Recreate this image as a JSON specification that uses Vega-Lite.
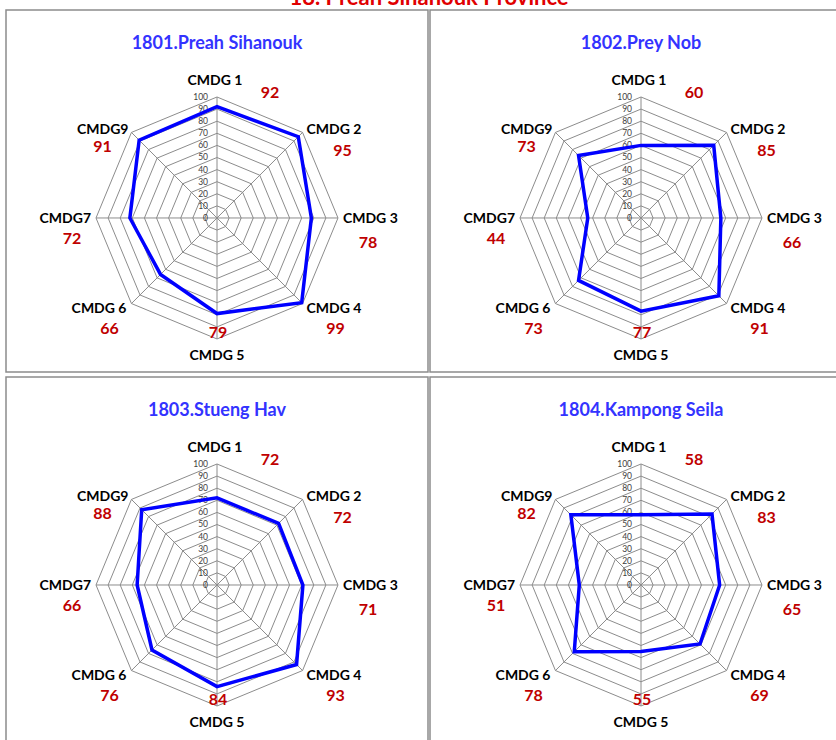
{
"$schema": "https://vega.github.io/schema/vega-lite/v6.json",
"background": "white",
"padding": {"left": 5, "top": -13, "right": -15, "bottom": -7},
"title": {"text": "18. Preah Sihanouk Province", "font": "Lato", "fontSize": 22, "fontWeight": "bold", "color": "#E00000", "anchor": "middle", "baseline": "alphabetic", "offset": -18},
"config": {"view": {"stroke": "#8c8c8c", "strokeWidth": 1.5}},
"datasets": {
"axes": [{"k":0,"label":"CMDG 1"},{"k":1,"label":"CMDG 2"},{"k":2,"label":"CMDG 3"},{"k":3,"label":"CMDG 4"},{"k":4,"label":"CMDG 5"},{"k":5,"label":"CMDG 6"},{"k":6,"label":"CMDG7"},{"k":7,"label":"CMDG9"}],
"rings": [{"level":10,"k":[0,1,2,3,4,5,6,7]},{"level":20,"k":[0,1,2,3,4,5,6,7]},{"level":30,"k":[0,1,2,3,4,5,6,7]},{"level":40,"k":[0,1,2,3,4,5,6,7]},{"level":50,"k":[0,1,2,3,4,5,6,7]},{"level":60,"k":[0,1,2,3,4,5,6,7]},{"level":70,"k":[0,1,2,3,4,5,6,7]},{"level":80,"k":[0,1,2,3,4,5,6,7]},{"level":90,"k":[0,1,2,3,4,5,6,7]},{"level":100,"k":[0,1,2,3,4,5,6,7]}],
"ticks": [{"level":0},{"level":10},{"level":20},{"level":30},{"level":40},{"level":50},{"level":60},{"level":70},{"level":80},{"level":90},{"level":100}],
"scores": [
{"district":"1801.Preah Sihanouk","indicator":"CMDG 1","k":0,"value":92},
{"district":"1801.Preah Sihanouk","indicator":"CMDG 2","k":1,"value":95},
{"district":"1801.Preah Sihanouk","indicator":"CMDG 3","k":2,"value":78},
{"district":"1801.Preah Sihanouk","indicator":"CMDG 4","k":3,"value":99},
{"district":"1801.Preah Sihanouk","indicator":"CMDG 5","k":4,"value":79},
{"district":"1801.Preah Sihanouk","indicator":"CMDG 6","k":5,"value":66},
{"district":"1801.Preah Sihanouk","indicator":"CMDG7","k":6,"value":72},
{"district":"1801.Preah Sihanouk","indicator":"CMDG9","k":7,"value":91},
{"district":"1802.Prey Nob","indicator":"CMDG 1","k":0,"value":60},
{"district":"1802.Prey Nob","indicator":"CMDG 2","k":1,"value":85},
{"district":"1802.Prey Nob","indicator":"CMDG 3","k":2,"value":66},
{"district":"1802.Prey Nob","indicator":"CMDG 4","k":3,"value":91},
{"district":"1802.Prey Nob","indicator":"CMDG 5","k":4,"value":77},
{"district":"1802.Prey Nob","indicator":"CMDG 6","k":5,"value":73},
{"district":"1802.Prey Nob","indicator":"CMDG7","k":6,"value":44},
{"district":"1802.Prey Nob","indicator":"CMDG9","k":7,"value":73},
{"district":"1803.Stueng Hav","indicator":"CMDG 1","k":0,"value":72},
{"district":"1803.Stueng Hav","indicator":"CMDG 2","k":1,"value":72},
{"district":"1803.Stueng Hav","indicator":"CMDG 3","k":2,"value":71},
{"district":"1803.Stueng Hav","indicator":"CMDG 4","k":3,"value":93},
{"district":"1803.Stueng Hav","indicator":"CMDG 5","k":4,"value":84},
{"district":"1803.Stueng Hav","indicator":"CMDG 6","k":5,"value":76},
{"district":"1803.Stueng Hav","indicator":"CMDG7","k":6,"value":66},
{"district":"1803.Stueng Hav","indicator":"CMDG9","k":7,"value":88},
{"district":"1804.Kampong Seila","indicator":"CMDG 1","k":0,"value":58},
{"district":"1804.Kampong Seila","indicator":"CMDG 2","k":1,"value":83},
{"district":"1804.Kampong Seila","indicator":"CMDG 3","k":2,"value":65},
{"district":"1804.Kampong Seila","indicator":"CMDG 4","k":3,"value":69},
{"district":"1804.Kampong Seila","indicator":"CMDG 5","k":4,"value":55},
{"district":"1804.Kampong Seila","indicator":"CMDG 6","k":5,"value":78},
{"district":"1804.Kampong Seila","indicator":"CMDG7","k":6,"value":51},
{"district":"1804.Kampong Seila","indicator":"CMDG9","k":7,"value":82}
]
},
"spacing": 3,
"vconcat": [
{"spacing": 0, "hconcat": [
{"width":422,"height":362,
"title":{"text":"1801.Preah Sihanouk","font":"Lato","fontSize":18,"fontWeight":"bold","color":"#3333FF","anchor":"middle","baseline":"alphabetic","offset":0,"dy":57},
"encoding":{"x":{"field":"px","type":"quantitative","scale":{"domain":[-174.4,174.4],"nice":false,"zero":false},"axis":null},"y":{"field":"py","type":"quantitative","scale":{"domain":[-127.3,171.9],"nice":false,"zero":false},"axis":null}},
"layer":[
{"data":{"name":"rings"},"transform":[{"flatten":["k"]},{"calculate":"datum.level*sin(datum.k*PI/4)","as":"px"},{"calculate":"datum.level*cos(datum.k*PI/4)","as":"py"}],"mark":{"type":"line","interpolate":"linear-closed","stroke":"#8c8c8c","strokeWidth":1},"encoding":{"detail":{"field":"level","type":"nominal"},"order":{"field":"k","type":"quantitative"}}},
{"data":{"name":"axes"},"transform":[{"calculate":"100*sin(datum.k*PI/4)","as":"px"},{"calculate":"100*cos(datum.k*PI/4)","as":"py"}],"mark":{"type":"rule","stroke":"#8c8c8c","strokeWidth":1},"encoding":{"x2":{"datum":0},"y2":{"datum":0}}},
{"data":{"name":"ticks"},"transform":[{"calculate":"0","as":"px"},{"calculate":"datum.level","as":"py"}],"mark":{"type":"text","align":"right","baseline":"middle","dx":-9,"font":"Lato","fontSize":8.5,"color":"#404040"},"encoding":{"text":{"field":"level","type":"quantitative"}}},
{"data":{"name":"scores"},"transform":[{"filter":"datum.district == '1801.Preah Sihanouk'"},{"calculate":"datum.value*sin(datum.k*PI/4)","as":"px"},{"calculate":"datum.value*cos(datum.k*PI/4)","as":"py"}],"mark":{"type":"line","interpolate":"linear-closed","stroke":"#0000FF","strokeWidth":3.5},"encoding":{"order":{"field":"k","type":"quantitative"}}},
{"data":{"name":"axes"},"transform":[{"filter":"datum.k == 0"},{"calculate":"100*sin(datum.k*PI/4)","as":"px"},{"calculate":"100*cos(datum.k*PI/4)","as":"py"}],"mark":{"type":"text","align":"center","baseline":"middle","dx":-2,"dy":-16,"font":"Lato","fontSize":14,"fontWeight":"bold","color":"#000000"},"encoding":{"text":{"field":"label"}}},
{"data":{"name":"axes"},"transform":[{"filter":"datum.k == 1"},{"calculate":"100*sin(datum.k*PI/4)","as":"px"},{"calculate":"100*cos(datum.k*PI/4)","as":"py"}],"mark":{"type":"text","align":"left","baseline":"middle","dx":4,"dy":-2,"font":"Lato","fontSize":14,"fontWeight":"bold","color":"#000000"},"encoding":{"text":{"field":"label"}}},
{"data":{"name":"axes"},"transform":[{"filter":"datum.k == 2"},{"calculate":"100*sin(datum.k*PI/4)","as":"px"},{"calculate":"100*cos(datum.k*PI/4)","as":"py"}],"mark":{"type":"text","align":"left","baseline":"middle","dx":5,"dy":1,"font":"Lato","fontSize":14,"fontWeight":"bold","color":"#000000"},"encoding":{"text":{"field":"label"}}},
{"data":{"name":"axes"},"transform":[{"filter":"datum.k == 3"},{"calculate":"100*sin(datum.k*PI/4)","as":"px"},{"calculate":"100*cos(datum.k*PI/4)","as":"py"}],"mark":{"type":"text","align":"left","baseline":"middle","dx":4,"dy":5,"font":"Lato","fontSize":14,"fontWeight":"bold","color":"#000000"},"encoding":{"text":{"field":"label"}}},
{"data":{"name":"axes"},"transform":[{"filter":"datum.k == 4"},{"calculate":"100*sin(datum.k*PI/4)","as":"px"},{"calculate":"100*cos(datum.k*PI/4)","as":"py"}],"mark":{"type":"text","align":"center","baseline":"middle","dx":0,"dy":17,"font":"Lato","fontSize":14,"fontWeight":"bold","color":"#000000"},"encoding":{"text":{"field":"label"}}},
{"data":{"name":"axes"},"transform":[{"filter":"datum.k == 5"},{"calculate":"100*sin(datum.k*PI/4)","as":"px"},{"calculate":"100*cos(datum.k*PI/4)","as":"py"}],"mark":{"type":"text","align":"right","baseline":"middle","dx":-5,"dy":5,"font":"Lato","fontSize":14,"fontWeight":"bold","color":"#000000"},"encoding":{"text":{"field":"label"}}},
{"data":{"name":"axes"},"transform":[{"filter":"datum.k == 6"},{"calculate":"100*sin(datum.k*PI/4)","as":"px"},{"calculate":"100*cos(datum.k*PI/4)","as":"py"}],"mark":{"type":"text","align":"right","baseline":"middle","dx":-5,"dy":1,"font":"Lato","fontSize":14,"fontWeight":"bold","color":"#000000"},"encoding":{"text":{"field":"label"}}},
{"data":{"name":"axes"},"transform":[{"filter":"datum.k == 7"},{"calculate":"100*sin(datum.k*PI/4)","as":"px"},{"calculate":"100*cos(datum.k*PI/4)","as":"py"}],"mark":{"type":"text","align":"right","baseline":"middle","dx":-3,"dy":-2,"font":"Lato","fontSize":14,"fontWeight":"bold","color":"#000000"},"encoding":{"text":{"field":"label"}}},
{"data":{"name":"scores"},"transform":[{"filter":"datum.district == '1801.Preah Sihanouk' && datum.k == 0"},{"calculate":"100*sin(datum.k*PI/4)","as":"px"},{"calculate":"100*cos(datum.k*PI/4)","as":"py"}],"mark":{"type":"text","align":"center","baseline":"middle","dx":53,"dy":-4,"font":"Lato","fontSize":16,"fontWeight":"bold","color":"#C00000"},"encoding":{"text":{"field":"value","type":"quantitative"}}},
{"data":{"name":"scores"},"transform":[{"filter":"datum.district == '1801.Preah Sihanouk' && datum.k == 1"},{"calculate":"100*sin(datum.k*PI/4)","as":"px"},{"calculate":"100*cos(datum.k*PI/4)","as":"py"}],"mark":{"type":"text","align":"center","baseline":"middle","dx":40,"dy":19,"font":"Lato","fontSize":16,"fontWeight":"bold","color":"#C00000"},"encoding":{"text":{"field":"value","type":"quantitative"}}},
{"data":{"name":"scores"},"transform":[{"filter":"datum.district == '1801.Preah Sihanouk' && datum.k == 2"},{"calculate":"100*sin(datum.k*PI/4)","as":"px"},{"calculate":"100*cos(datum.k*PI/4)","as":"py"}],"mark":{"type":"text","align":"center","baseline":"middle","dx":30,"dy":25,"font":"Lato","fontSize":16,"fontWeight":"bold","color":"#C00000"},"encoding":{"text":{"field":"value","type":"quantitative"}}},
{"data":{"name":"scores"},"transform":[{"filter":"datum.district == '1801.Preah Sihanouk' && datum.k == 3"},{"calculate":"100*sin(datum.k*PI/4)","as":"px"},{"calculate":"100*cos(datum.k*PI/4)","as":"py"}],"mark":{"type":"text","align":"center","baseline":"middle","dx":33,"dy":25,"font":"Lato","fontSize":16,"fontWeight":"bold","color":"#C00000"},"encoding":{"text":{"field":"value","type":"quantitative"}}},
{"data":{"name":"scores"},"transform":[{"filter":"datum.district == '1801.Preah Sihanouk' && datum.k == 4"},{"calculate":"100*sin(datum.k*PI/4)","as":"px"},{"calculate":"100*cos(datum.k*PI/4)","as":"py"}],"mark":{"type":"text","align":"center","baseline":"middle","dx":1,"dy":-6,"font":"Lato","fontSize":16,"fontWeight":"bold","color":"#C00000"},"encoding":{"text":{"field":"value","type":"quantitative"}}},
{"data":{"name":"scores"},"transform":[{"filter":"datum.district == '1801.Preah Sihanouk' && datum.k == 5"},{"calculate":"100*sin(datum.k*PI/4)","as":"px"},{"calculate":"100*cos(datum.k*PI/4)","as":"py"}],"mark":{"type":"text","align":"center","baseline":"middle","dx":-22,"dy":25,"font":"Lato","fontSize":16,"fontWeight":"bold","color":"#C00000"},"encoding":{"text":{"field":"value","type":"quantitative"}}},
{"data":{"name":"scores"},"transform":[{"filter":"datum.district == '1801.Preah Sihanouk' && datum.k == 6"},{"calculate":"100*sin(datum.k*PI/4)","as":"px"},{"calculate":"100*cos(datum.k*PI/4)","as":"py"}],"mark":{"type":"text","align":"center","baseline":"middle","dx":-24,"dy":21,"font":"Lato","fontSize":16,"fontWeight":"bold","color":"#C00000"},"encoding":{"text":{"field":"value","type":"quantitative"}}},
{"data":{"name":"scores"},"transform":[{"filter":"datum.district == '1801.Preah Sihanouk' && datum.k == 7"},{"calculate":"100*sin(datum.k*PI/4)","as":"px"},{"calculate":"100*cos(datum.k*PI/4)","as":"py"}],"mark":{"type":"text","align":"center","baseline":"middle","dx":-29,"dy":15,"font":"Lato","fontSize":16,"fontWeight":"bold","color":"#C00000"},"encoding":{"text":{"field":"value","type":"quantitative"}}}
]},
{"width":422,"height":362,
"title":{"text":"1802.Prey Nob","font":"Lato","fontSize":18,"fontWeight":"bold","color":"#3333FF","anchor":"middle","baseline":"alphabetic","offset":0,"dy":57},
"encoding":{"x":{"field":"px","type":"quantitative","scale":{"domain":[-174.4,174.4],"nice":false,"zero":false},"axis":null},"y":{"field":"py","type":"quantitative","scale":{"domain":[-127.3,171.9],"nice":false,"zero":false},"axis":null}},
"layer":[
{"data":{"name":"rings"},"transform":[{"flatten":["k"]},{"calculate":"datum.level*sin(datum.k*PI/4)","as":"px"},{"calculate":"datum.level*cos(datum.k*PI/4)","as":"py"}],"mark":{"type":"line","interpolate":"linear-closed","stroke":"#8c8c8c","strokeWidth":1},"encoding":{"detail":{"field":"level","type":"nominal"},"order":{"field":"k","type":"quantitative"}}},
{"data":{"name":"axes"},"transform":[{"calculate":"100*sin(datum.k*PI/4)","as":"px"},{"calculate":"100*cos(datum.k*PI/4)","as":"py"}],"mark":{"type":"rule","stroke":"#8c8c8c","strokeWidth":1},"encoding":{"x2":{"datum":0},"y2":{"datum":0}}},
{"data":{"name":"ticks"},"transform":[{"calculate":"0","as":"px"},{"calculate":"datum.level","as":"py"}],"mark":{"type":"text","align":"right","baseline":"middle","dx":-9,"font":"Lato","fontSize":8.5,"color":"#404040"},"encoding":{"text":{"field":"level","type":"quantitative"}}},
{"data":{"name":"scores"},"transform":[{"filter":"datum.district == '1802.Prey Nob'"},{"calculate":"datum.value*sin(datum.k*PI/4)","as":"px"},{"calculate":"datum.value*cos(datum.k*PI/4)","as":"py"}],"mark":{"type":"line","interpolate":"linear-closed","stroke":"#0000FF","strokeWidth":3.5},"encoding":{"order":{"field":"k","type":"quantitative"}}},
{"data":{"name":"axes"},"transform":[{"filter":"datum.k == 0"},{"calculate":"100*sin(datum.k*PI/4)","as":"px"},{"calculate":"100*cos(datum.k*PI/4)","as":"py"}],"mark":{"type":"text","align":"center","baseline":"middle","dx":-2,"dy":-16,"font":"Lato","fontSize":14,"fontWeight":"bold","color":"#000000"},"encoding":{"text":{"field":"label"}}},
{"data":{"name":"axes"},"transform":[{"filter":"datum.k == 1"},{"calculate":"100*sin(datum.k*PI/4)","as":"px"},{"calculate":"100*cos(datum.k*PI/4)","as":"py"}],"mark":{"type":"text","align":"left","baseline":"middle","dx":4,"dy":-2,"font":"Lato","fontSize":14,"fontWeight":"bold","color":"#000000"},"encoding":{"text":{"field":"label"}}},
{"data":{"name":"axes"},"transform":[{"filter":"datum.k == 2"},{"calculate":"100*sin(datum.k*PI/4)","as":"px"},{"calculate":"100*cos(datum.k*PI/4)","as":"py"}],"mark":{"type":"text","align":"left","baseline":"middle","dx":5,"dy":1,"font":"Lato","fontSize":14,"fontWeight":"bold","color":"#000000"},"encoding":{"text":{"field":"label"}}},
{"data":{"name":"axes"},"transform":[{"filter":"datum.k == 3"},{"calculate":"100*sin(datum.k*PI/4)","as":"px"},{"calculate":"100*cos(datum.k*PI/4)","as":"py"}],"mark":{"type":"text","align":"left","baseline":"middle","dx":4,"dy":5,"font":"Lato","fontSize":14,"fontWeight":"bold","color":"#000000"},"encoding":{"text":{"field":"label"}}},
{"data":{"name":"axes"},"transform":[{"filter":"datum.k == 4"},{"calculate":"100*sin(datum.k*PI/4)","as":"px"},{"calculate":"100*cos(datum.k*PI/4)","as":"py"}],"mark":{"type":"text","align":"center","baseline":"middle","dx":0,"dy":17,"font":"Lato","fontSize":14,"fontWeight":"bold","color":"#000000"},"encoding":{"text":{"field":"label"}}},
{"data":{"name":"axes"},"transform":[{"filter":"datum.k == 5"},{"calculate":"100*sin(datum.k*PI/4)","as":"px"},{"calculate":"100*cos(datum.k*PI/4)","as":"py"}],"mark":{"type":"text","align":"right","baseline":"middle","dx":-5,"dy":5,"font":"Lato","fontSize":14,"fontWeight":"bold","color":"#000000"},"encoding":{"text":{"field":"label"}}},
{"data":{"name":"axes"},"transform":[{"filter":"datum.k == 6"},{"calculate":"100*sin(datum.k*PI/4)","as":"px"},{"calculate":"100*cos(datum.k*PI/4)","as":"py"}],"mark":{"type":"text","align":"right","baseline":"middle","dx":-5,"dy":1,"font":"Lato","fontSize":14,"fontWeight":"bold","color":"#000000"},"encoding":{"text":{"field":"label"}}},
{"data":{"name":"axes"},"transform":[{"filter":"datum.k == 7"},{"calculate":"100*sin(datum.k*PI/4)","as":"px"},{"calculate":"100*cos(datum.k*PI/4)","as":"py"}],"mark":{"type":"text","align":"right","baseline":"middle","dx":-3,"dy":-2,"font":"Lato","fontSize":14,"fontWeight":"bold","color":"#000000"},"encoding":{"text":{"field":"label"}}},
{"data":{"name":"scores"},"transform":[{"filter":"datum.district == '1802.Prey Nob' && datum.k == 0"},{"calculate":"100*sin(datum.k*PI/4)","as":"px"},{"calculate":"100*cos(datum.k*PI/4)","as":"py"}],"mark":{"type":"text","align":"center","baseline":"middle","dx":53,"dy":-4,"font":"Lato","fontSize":16,"fontWeight":"bold","color":"#C00000"},"encoding":{"text":{"field":"value","type":"quantitative"}}},
{"data":{"name":"scores"},"transform":[{"filter":"datum.district == '1802.Prey Nob' && datum.k == 1"},{"calculate":"100*sin(datum.k*PI/4)","as":"px"},{"calculate":"100*cos(datum.k*PI/4)","as":"py"}],"mark":{"type":"text","align":"center","baseline":"middle","dx":40,"dy":19,"font":"Lato","fontSize":16,"fontWeight":"bold","color":"#C00000"},"encoding":{"text":{"field":"value","type":"quantitative"}}},
{"data":{"name":"scores"},"transform":[{"filter":"datum.district == '1802.Prey Nob' && datum.k == 2"},{"calculate":"100*sin(datum.k*PI/4)","as":"px"},{"calculate":"100*cos(datum.k*PI/4)","as":"py"}],"mark":{"type":"text","align":"center","baseline":"middle","dx":30,"dy":25,"font":"Lato","fontSize":16,"fontWeight":"bold","color":"#C00000"},"encoding":{"text":{"field":"value","type":"quantitative"}}},
{"data":{"name":"scores"},"transform":[{"filter":"datum.district == '1802.Prey Nob' && datum.k == 3"},{"calculate":"100*sin(datum.k*PI/4)","as":"px"},{"calculate":"100*cos(datum.k*PI/4)","as":"py"}],"mark":{"type":"text","align":"center","baseline":"middle","dx":33,"dy":25,"font":"Lato","fontSize":16,"fontWeight":"bold","color":"#C00000"},"encoding":{"text":{"field":"value","type":"quantitative"}}},
{"data":{"name":"scores"},"transform":[{"filter":"datum.district == '1802.Prey Nob' && datum.k == 4"},{"calculate":"100*sin(datum.k*PI/4)","as":"px"},{"calculate":"100*cos(datum.k*PI/4)","as":"py"}],"mark":{"type":"text","align":"center","baseline":"middle","dx":1,"dy":-6,"font":"Lato","fontSize":16,"fontWeight":"bold","color":"#C00000"},"encoding":{"text":{"field":"value","type":"quantitative"}}},
{"data":{"name":"scores"},"transform":[{"filter":"datum.district == '1802.Prey Nob' && datum.k == 5"},{"calculate":"100*sin(datum.k*PI/4)","as":"px"},{"calculate":"100*cos(datum.k*PI/4)","as":"py"}],"mark":{"type":"text","align":"center","baseline":"middle","dx":-22,"dy":25,"font":"Lato","fontSize":16,"fontWeight":"bold","color":"#C00000"},"encoding":{"text":{"field":"value","type":"quantitative"}}},
{"data":{"name":"scores"},"transform":[{"filter":"datum.district == '1802.Prey Nob' && datum.k == 6"},{"calculate":"100*sin(datum.k*PI/4)","as":"px"},{"calculate":"100*cos(datum.k*PI/4)","as":"py"}],"mark":{"type":"text","align":"center","baseline":"middle","dx":-24,"dy":21,"font":"Lato","fontSize":16,"fontWeight":"bold","color":"#C00000"},"encoding":{"text":{"field":"value","type":"quantitative"}}},
{"data":{"name":"scores"},"transform":[{"filter":"datum.district == '1802.Prey Nob' && datum.k == 7"},{"calculate":"100*sin(datum.k*PI/4)","as":"px"},{"calculate":"100*cos(datum.k*PI/4)","as":"py"}],"mark":{"type":"text","align":"center","baseline":"middle","dx":-29,"dy":15,"font":"Lato","fontSize":16,"fontWeight":"bold","color":"#C00000"},"encoding":{"text":{"field":"value","type":"quantitative"}}}
]}
]},
{"spacing": 0, "hconcat": [
{"width":422,"height":370,
"title":{"text":"1803.Stueng Hav","font":"Lato","fontSize":18,"fontWeight":"bold","color":"#3333FF","anchor":"middle","baseline":"alphabetic","offset":0,"dy":57},
"encoding":{"x":{"field":"px","type":"quantitative","scale":{"domain":[-174.4,174.4],"nice":false,"zero":false},"axis":null},"y":{"field":"py","type":"quantitative","scale":{"domain":[-133.9,171.9],"nice":false,"zero":false},"axis":null}},
"layer":[
{"data":{"name":"rings"},"transform":[{"flatten":["k"]},{"calculate":"datum.level*sin(datum.k*PI/4)","as":"px"},{"calculate":"datum.level*cos(datum.k*PI/4)","as":"py"}],"mark":{"type":"line","interpolate":"linear-closed","stroke":"#8c8c8c","strokeWidth":1},"encoding":{"detail":{"field":"level","type":"nominal"},"order":{"field":"k","type":"quantitative"}}},
{"data":{"name":"axes"},"transform":[{"calculate":"100*sin(datum.k*PI/4)","as":"px"},{"calculate":"100*cos(datum.k*PI/4)","as":"py"}],"mark":{"type":"rule","stroke":"#8c8c8c","strokeWidth":1},"encoding":{"x2":{"datum":0},"y2":{"datum":0}}},
{"data":{"name":"ticks"},"transform":[{"calculate":"0","as":"px"},{"calculate":"datum.level","as":"py"}],"mark":{"type":"text","align":"right","baseline":"middle","dx":-9,"font":"Lato","fontSize":8.5,"color":"#404040"},"encoding":{"text":{"field":"level","type":"quantitative"}}},
{"data":{"name":"scores"},"transform":[{"filter":"datum.district == '1803.Stueng Hav'"},{"calculate":"datum.value*sin(datum.k*PI/4)","as":"px"},{"calculate":"datum.value*cos(datum.k*PI/4)","as":"py"}],"mark":{"type":"line","interpolate":"linear-closed","stroke":"#0000FF","strokeWidth":3.5},"encoding":{"order":{"field":"k","type":"quantitative"}}},
{"data":{"name":"axes"},"transform":[{"filter":"datum.k == 0"},{"calculate":"100*sin(datum.k*PI/4)","as":"px"},{"calculate":"100*cos(datum.k*PI/4)","as":"py"}],"mark":{"type":"text","align":"center","baseline":"middle","dx":-2,"dy":-16,"font":"Lato","fontSize":14,"fontWeight":"bold","color":"#000000"},"encoding":{"text":{"field":"label"}}},
{"data":{"name":"axes"},"transform":[{"filter":"datum.k == 1"},{"calculate":"100*sin(datum.k*PI/4)","as":"px"},{"calculate":"100*cos(datum.k*PI/4)","as":"py"}],"mark":{"type":"text","align":"left","baseline":"middle","dx":4,"dy":-2,"font":"Lato","fontSize":14,"fontWeight":"bold","color":"#000000"},"encoding":{"text":{"field":"label"}}},
{"data":{"name":"axes"},"transform":[{"filter":"datum.k == 2"},{"calculate":"100*sin(datum.k*PI/4)","as":"px"},{"calculate":"100*cos(datum.k*PI/4)","as":"py"}],"mark":{"type":"text","align":"left","baseline":"middle","dx":5,"dy":1,"font":"Lato","fontSize":14,"fontWeight":"bold","color":"#000000"},"encoding":{"text":{"field":"label"}}},
{"data":{"name":"axes"},"transform":[{"filter":"datum.k == 3"},{"calculate":"100*sin(datum.k*PI/4)","as":"px"},{"calculate":"100*cos(datum.k*PI/4)","as":"py"}],"mark":{"type":"text","align":"left","baseline":"middle","dx":4,"dy":5,"font":"Lato","fontSize":14,"fontWeight":"bold","color":"#000000"},"encoding":{"text":{"field":"label"}}},
{"data":{"name":"axes"},"transform":[{"filter":"datum.k == 4"},{"calculate":"100*sin(datum.k*PI/4)","as":"px"},{"calculate":"100*cos(datum.k*PI/4)","as":"py"}],"mark":{"type":"text","align":"center","baseline":"middle","dx":0,"dy":17,"font":"Lato","fontSize":14,"fontWeight":"bold","color":"#000000"},"encoding":{"text":{"field":"label"}}},
{"data":{"name":"axes"},"transform":[{"filter":"datum.k == 5"},{"calculate":"100*sin(datum.k*PI/4)","as":"px"},{"calculate":"100*cos(datum.k*PI/4)","as":"py"}],"mark":{"type":"text","align":"right","baseline":"middle","dx":-5,"dy":5,"font":"Lato","fontSize":14,"fontWeight":"bold","color":"#000000"},"encoding":{"text":{"field":"label"}}},
{"data":{"name":"axes"},"transform":[{"filter":"datum.k == 6"},{"calculate":"100*sin(datum.k*PI/4)","as":"px"},{"calculate":"100*cos(datum.k*PI/4)","as":"py"}],"mark":{"type":"text","align":"right","baseline":"middle","dx":-5,"dy":1,"font":"Lato","fontSize":14,"fontWeight":"bold","color":"#000000"},"encoding":{"text":{"field":"label"}}},
{"data":{"name":"axes"},"transform":[{"filter":"datum.k == 7"},{"calculate":"100*sin(datum.k*PI/4)","as":"px"},{"calculate":"100*cos(datum.k*PI/4)","as":"py"}],"mark":{"type":"text","align":"right","baseline":"middle","dx":-3,"dy":-2,"font":"Lato","fontSize":14,"fontWeight":"bold","color":"#000000"},"encoding":{"text":{"field":"label"}}},
{"data":{"name":"scores"},"transform":[{"filter":"datum.district == '1803.Stueng Hav' && datum.k == 0"},{"calculate":"100*sin(datum.k*PI/4)","as":"px"},{"calculate":"100*cos(datum.k*PI/4)","as":"py"}],"mark":{"type":"text","align":"center","baseline":"middle","dx":53,"dy":-4,"font":"Lato","fontSize":16,"fontWeight":"bold","color":"#C00000"},"encoding":{"text":{"field":"value","type":"quantitative"}}},
{"data":{"name":"scores"},"transform":[{"filter":"datum.district == '1803.Stueng Hav' && datum.k == 1"},{"calculate":"100*sin(datum.k*PI/4)","as":"px"},{"calculate":"100*cos(datum.k*PI/4)","as":"py"}],"mark":{"type":"text","align":"center","baseline":"middle","dx":40,"dy":19,"font":"Lato","fontSize":16,"fontWeight":"bold","color":"#C00000"},"encoding":{"text":{"field":"value","type":"quantitative"}}},
{"data":{"name":"scores"},"transform":[{"filter":"datum.district == '1803.Stueng Hav' && datum.k == 2"},{"calculate":"100*sin(datum.k*PI/4)","as":"px"},{"calculate":"100*cos(datum.k*PI/4)","as":"py"}],"mark":{"type":"text","align":"center","baseline":"middle","dx":30,"dy":25,"font":"Lato","fontSize":16,"fontWeight":"bold","color":"#C00000"},"encoding":{"text":{"field":"value","type":"quantitative"}}},
{"data":{"name":"scores"},"transform":[{"filter":"datum.district == '1803.Stueng Hav' && datum.k == 3"},{"calculate":"100*sin(datum.k*PI/4)","as":"px"},{"calculate":"100*cos(datum.k*PI/4)","as":"py"}],"mark":{"type":"text","align":"center","baseline":"middle","dx":33,"dy":25,"font":"Lato","fontSize":16,"fontWeight":"bold","color":"#C00000"},"encoding":{"text":{"field":"value","type":"quantitative"}}},
{"data":{"name":"scores"},"transform":[{"filter":"datum.district == '1803.Stueng Hav' && datum.k == 4"},{"calculate":"100*sin(datum.k*PI/4)","as":"px"},{"calculate":"100*cos(datum.k*PI/4)","as":"py"}],"mark":{"type":"text","align":"center","baseline":"middle","dx":1,"dy":-6,"font":"Lato","fontSize":16,"fontWeight":"bold","color":"#C00000"},"encoding":{"text":{"field":"value","type":"quantitative"}}},
{"data":{"name":"scores"},"transform":[{"filter":"datum.district == '1803.Stueng Hav' && datum.k == 5"},{"calculate":"100*sin(datum.k*PI/4)","as":"px"},{"calculate":"100*cos(datum.k*PI/4)","as":"py"}],"mark":{"type":"text","align":"center","baseline":"middle","dx":-22,"dy":25,"font":"Lato","fontSize":16,"fontWeight":"bold","color":"#C00000"},"encoding":{"text":{"field":"value","type":"quantitative"}}},
{"data":{"name":"scores"},"transform":[{"filter":"datum.district == '1803.Stueng Hav' && datum.k == 6"},{"calculate":"100*sin(datum.k*PI/4)","as":"px"},{"calculate":"100*cos(datum.k*PI/4)","as":"py"}],"mark":{"type":"text","align":"center","baseline":"middle","dx":-24,"dy":21,"font":"Lato","fontSize":16,"fontWeight":"bold","color":"#C00000"},"encoding":{"text":{"field":"value","type":"quantitative"}}},
{"data":{"name":"scores"},"transform":[{"filter":"datum.district == '1803.Stueng Hav' && datum.k == 7"},{"calculate":"100*sin(datum.k*PI/4)","as":"px"},{"calculate":"100*cos(datum.k*PI/4)","as":"py"}],"mark":{"type":"text","align":"center","baseline":"middle","dx":-29,"dy":15,"font":"Lato","fontSize":16,"fontWeight":"bold","color":"#C00000"},"encoding":{"text":{"field":"value","type":"quantitative"}}}
]},
{"width":422,"height":370,
"title":{"text":"1804.Kampong Seila","font":"Lato","fontSize":18,"fontWeight":"bold","color":"#3333FF","anchor":"middle","baseline":"alphabetic","offset":0,"dy":57},
"encoding":{"x":{"field":"px","type":"quantitative","scale":{"domain":[-174.4,174.4],"nice":false,"zero":false},"axis":null},"y":{"field":"py","type":"quantitative","scale":{"domain":[-133.9,171.9],"nice":false,"zero":false},"axis":null}},
"layer":[
{"data":{"name":"rings"},"transform":[{"flatten":["k"]},{"calculate":"datum.level*sin(datum.k*PI/4)","as":"px"},{"calculate":"datum.level*cos(datum.k*PI/4)","as":"py"}],"mark":{"type":"line","interpolate":"linear-closed","stroke":"#8c8c8c","strokeWidth":1},"encoding":{"detail":{"field":"level","type":"nominal"},"order":{"field":"k","type":"quantitative"}}},
{"data":{"name":"axes"},"transform":[{"calculate":"100*sin(datum.k*PI/4)","as":"px"},{"calculate":"100*cos(datum.k*PI/4)","as":"py"}],"mark":{"type":"rule","stroke":"#8c8c8c","strokeWidth":1},"encoding":{"x2":{"datum":0},"y2":{"datum":0}}},
{"data":{"name":"ticks"},"transform":[{"calculate":"0","as":"px"},{"calculate":"datum.level","as":"py"}],"mark":{"type":"text","align":"right","baseline":"middle","dx":-9,"font":"Lato","fontSize":8.5,"color":"#404040"},"encoding":{"text":{"field":"level","type":"quantitative"}}},
{"data":{"name":"scores"},"transform":[{"filter":"datum.district == '1804.Kampong Seila'"},{"calculate":"datum.value*sin(datum.k*PI/4)","as":"px"},{"calculate":"datum.value*cos(datum.k*PI/4)","as":"py"}],"mark":{"type":"line","interpolate":"linear-closed","stroke":"#0000FF","strokeWidth":3.5},"encoding":{"order":{"field":"k","type":"quantitative"}}},
{"data":{"name":"axes"},"transform":[{"filter":"datum.k == 0"},{"calculate":"100*sin(datum.k*PI/4)","as":"px"},{"calculate":"100*cos(datum.k*PI/4)","as":"py"}],"mark":{"type":"text","align":"center","baseline":"middle","dx":-2,"dy":-16,"font":"Lato","fontSize":14,"fontWeight":"bold","color":"#000000"},"encoding":{"text":{"field":"label"}}},
{"data":{"name":"axes"},"transform":[{"filter":"datum.k == 1"},{"calculate":"100*sin(datum.k*PI/4)","as":"px"},{"calculate":"100*cos(datum.k*PI/4)","as":"py"}],"mark":{"type":"text","align":"left","baseline":"middle","dx":4,"dy":-2,"font":"Lato","fontSize":14,"fontWeight":"bold","color":"#000000"},"encoding":{"text":{"field":"label"}}},
{"data":{"name":"axes"},"transform":[{"filter":"datum.k == 2"},{"calculate":"100*sin(datum.k*PI/4)","as":"px"},{"calculate":"100*cos(datum.k*PI/4)","as":"py"}],"mark":{"type":"text","align":"left","baseline":"middle","dx":5,"dy":1,"font":"Lato","fontSize":14,"fontWeight":"bold","color":"#000000"},"encoding":{"text":{"field":"label"}}},
{"data":{"name":"axes"},"transform":[{"filter":"datum.k == 3"},{"calculate":"100*sin(datum.k*PI/4)","as":"px"},{"calculate":"100*cos(datum.k*PI/4)","as":"py"}],"mark":{"type":"text","align":"left","baseline":"middle","dx":4,"dy":5,"font":"Lato","fontSize":14,"fontWeight":"bold","color":"#000000"},"encoding":{"text":{"field":"label"}}},
{"data":{"name":"axes"},"transform":[{"filter":"datum.k == 4"},{"calculate":"100*sin(datum.k*PI/4)","as":"px"},{"calculate":"100*cos(datum.k*PI/4)","as":"py"}],"mark":{"type":"text","align":"center","baseline":"middle","dx":0,"dy":17,"font":"Lato","fontSize":14,"fontWeight":"bold","color":"#000000"},"encoding":{"text":{"field":"label"}}},
{"data":{"name":"axes"},"transform":[{"filter":"datum.k == 5"},{"calculate":"100*sin(datum.k*PI/4)","as":"px"},{"calculate":"100*cos(datum.k*PI/4)","as":"py"}],"mark":{"type":"text","align":"right","baseline":"middle","dx":-5,"dy":5,"font":"Lato","fontSize":14,"fontWeight":"bold","color":"#000000"},"encoding":{"text":{"field":"label"}}},
{"data":{"name":"axes"},"transform":[{"filter":"datum.k == 6"},{"calculate":"100*sin(datum.k*PI/4)","as":"px"},{"calculate":"100*cos(datum.k*PI/4)","as":"py"}],"mark":{"type":"text","align":"right","baseline":"middle","dx":-5,"dy":1,"font":"Lato","fontSize":14,"fontWeight":"bold","color":"#000000"},"encoding":{"text":{"field":"label"}}},
{"data":{"name":"axes"},"transform":[{"filter":"datum.k == 7"},{"calculate":"100*sin(datum.k*PI/4)","as":"px"},{"calculate":"100*cos(datum.k*PI/4)","as":"py"}],"mark":{"type":"text","align":"right","baseline":"middle","dx":-3,"dy":-2,"font":"Lato","fontSize":14,"fontWeight":"bold","color":"#000000"},"encoding":{"text":{"field":"label"}}},
{"data":{"name":"scores"},"transform":[{"filter":"datum.district == '1804.Kampong Seila' && datum.k == 0"},{"calculate":"100*sin(datum.k*PI/4)","as":"px"},{"calculate":"100*cos(datum.k*PI/4)","as":"py"}],"mark":{"type":"text","align":"center","baseline":"middle","dx":53,"dy":-4,"font":"Lato","fontSize":16,"fontWeight":"bold","color":"#C00000"},"encoding":{"text":{"field":"value","type":"quantitative"}}},
{"data":{"name":"scores"},"transform":[{"filter":"datum.district == '1804.Kampong Seila' && datum.k == 1"},{"calculate":"100*sin(datum.k*PI/4)","as":"px"},{"calculate":"100*cos(datum.k*PI/4)","as":"py"}],"mark":{"type":"text","align":"center","baseline":"middle","dx":40,"dy":19,"font":"Lato","fontSize":16,"fontWeight":"bold","color":"#C00000"},"encoding":{"text":{"field":"value","type":"quantitative"}}},
{"data":{"name":"scores"},"transform":[{"filter":"datum.district == '1804.Kampong Seila' && datum.k == 2"},{"calculate":"100*sin(datum.k*PI/4)","as":"px"},{"calculate":"100*cos(datum.k*PI/4)","as":"py"}],"mark":{"type":"text","align":"center","baseline":"middle","dx":30,"dy":25,"font":"Lato","fontSize":16,"fontWeight":"bold","color":"#C00000"},"encoding":{"text":{"field":"value","type":"quantitative"}}},
{"data":{"name":"scores"},"transform":[{"filter":"datum.district == '1804.Kampong Seila' && datum.k == 3"},{"calculate":"100*sin(datum.k*PI/4)","as":"px"},{"calculate":"100*cos(datum.k*PI/4)","as":"py"}],"mark":{"type":"text","align":"center","baseline":"middle","dx":33,"dy":25,"font":"Lato","fontSize":16,"fontWeight":"bold","color":"#C00000"},"encoding":{"text":{"field":"value","type":"quantitative"}}},
{"data":{"name":"scores"},"transform":[{"filter":"datum.district == '1804.Kampong Seila' && datum.k == 4"},{"calculate":"100*sin(datum.k*PI/4)","as":"px"},{"calculate":"100*cos(datum.k*PI/4)","as":"py"}],"mark":{"type":"text","align":"center","baseline":"middle","dx":1,"dy":-6,"font":"Lato","fontSize":16,"fontWeight":"bold","color":"#C00000"},"encoding":{"text":{"field":"value","type":"quantitative"}}},
{"data":{"name":"scores"},"transform":[{"filter":"datum.district == '1804.Kampong Seila' && datum.k == 5"},{"calculate":"100*sin(datum.k*PI/4)","as":"px"},{"calculate":"100*cos(datum.k*PI/4)","as":"py"}],"mark":{"type":"text","align":"center","baseline":"middle","dx":-22,"dy":25,"font":"Lato","fontSize":16,"fontWeight":"bold","color":"#C00000"},"encoding":{"text":{"field":"value","type":"quantitative"}}},
{"data":{"name":"scores"},"transform":[{"filter":"datum.district == '1804.Kampong Seila' && datum.k == 6"},{"calculate":"100*sin(datum.k*PI/4)","as":"px"},{"calculate":"100*cos(datum.k*PI/4)","as":"py"}],"mark":{"type":"text","align":"center","baseline":"middle","dx":-24,"dy":21,"font":"Lato","fontSize":16,"fontWeight":"bold","color":"#C00000"},"encoding":{"text":{"field":"value","type":"quantitative"}}},
{"data":{"name":"scores"},"transform":[{"filter":"datum.district == '1804.Kampong Seila' && datum.k == 7"},{"calculate":"100*sin(datum.k*PI/4)","as":"px"},{"calculate":"100*cos(datum.k*PI/4)","as":"py"}],"mark":{"type":"text","align":"center","baseline":"middle","dx":-29,"dy":15,"font":"Lato","fontSize":16,"fontWeight":"bold","color":"#C00000"},"encoding":{"text":{"field":"value","type":"quantitative"}}}
]}
]}
]
}
